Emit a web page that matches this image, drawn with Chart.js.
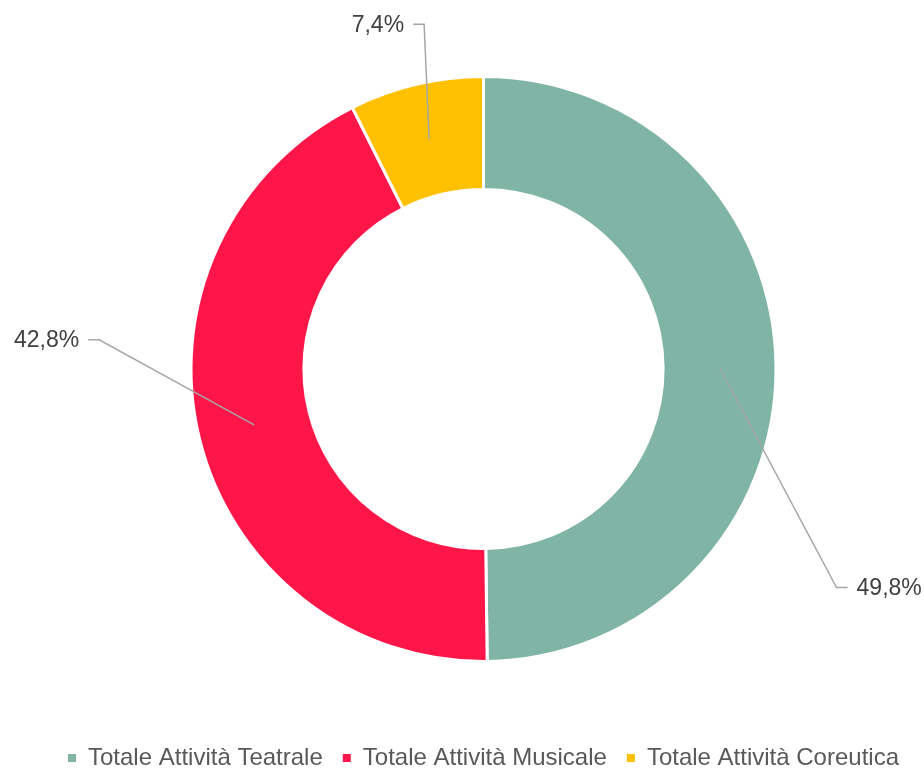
<!DOCTYPE html>
<html>
<head>
<meta charset="utf-8">
<script src="https://cdn.jsdelivr.net/npm/chart.js@4"></script>
<style>
  html, body { margin: 0; padding: 0; background: #fff; }
  #wrap { width: 924px; height: 769px; }
</style>
</head>
<body>
<div id="wrap"><canvas id="donut-chart"></canvas></div>
<script>
const categories = ['Totale Attività Teatrale', 'Totale Attività Musicale', 'Totale Attività Coreutica'];
const shares = [49.8, 42.8, 7.4];
const sliceColors = ['#80B5A6', '#FF1649', '#FFC000'];
// where each leader line bends, relative to the slice centre
const labelOffsets = [[117, 220], [-155, -85], [-5, -115]];

const FONT = '"Liberation Sans", Arial, sans-serif';

const leaderLabels = {
    id: 'leaderLabels',
    afterDatasetsDraw(chart) {
        const ctx = chart.ctx;
        const arcs = chart.getDatasetMeta(0).data;
        ctx.save();
        ctx.font = '23px ' + FONT;
        ctx.textBaseline = 'middle';
        ctx.strokeStyle = '#A6A6A6';
        ctx.lineWidth = 1.5;
        arcs.forEach((arc, i) => {
            const p = arc.getCenterPoint();
            const dir = labelOffsets[i][0] > 0 ? 1 : -1;
            const ex = p.x + labelOffsets[i][0];
            const ey = p.y + labelOffsets[i][1];
            const tx = ex + dir * 11;
            ctx.beginPath();
            ctx.moveTo(p.x, p.y);
            ctx.lineTo(ex, ey);
            ctx.lineTo(tx, ey);
            ctx.stroke();
            ctx.fillStyle = '#404040';
            ctx.textAlign = dir > 0 ? 'left' : 'right';
            const label = shares[i].toFixed(1).replace('.', ',') + '%';
            ctx.fillText(label, tx + dir * 9, ey + 1);
        });
        ctx.restore();
    }
};

const donut = document.getElementById('donut-chart').getContext('2d');

let donutChart = new Chart(donut, {
    type: 'doughnut',
    data: {
        labels: categories,
        datasets: [{
            data: shares,
            backgroundColor: sliceColors,
            borderColor: '#ffffff',
            borderWidth: 3,
            hoverOffset: 0,
            radius: 292.5,
            cutout: '61.4%'
        }]
    },
    options: {
        responsive: true,
        maintainAspectRatio: false,
        animation: false,
        layout: {
            padding: { top: 12, bottom: -11, left: 43, right: 0 }
        },
        plugins: {
            tooltip: { enabled: false },
            legend: {
                position: 'bottom',
                labels: {
                    boxWidth: 8,
                    boxHeight: 8,
                    padding: 20,
                    color: '#595959',
                    font: { size: 24, family: FONT },
                    generateLabels(chart) {
                        const items = Chart.overrides.doughnut.plugins.legend.labels.generateLabels(chart);
                        items.forEach(item => { item.lineWidth = 0; });
                        return items;
                    }
                }
            }
        }
    },
    plugins: [leaderLabels]
});
</script>
</body>
</html>
